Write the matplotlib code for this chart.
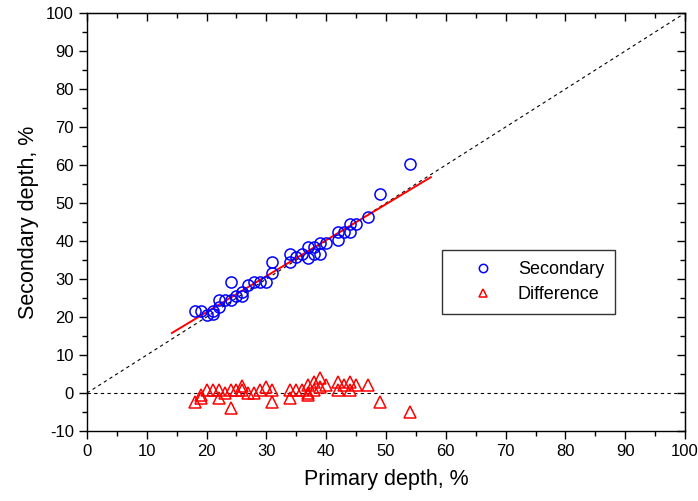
import numpy as np
import matplotlib
matplotlib.use("Agg")
import matplotlib.pyplot as plt
from matplotlib.ticker import MultipleLocator

plt.rcParams['font.family'] = ['Liberation Sans', 'DejaVu Sans']
plt.rcParams['axes.unicode_minus'] = False

# secondary depth vs primary depth
prim = [18, 19, 20, 21, 21, 22, 22, 23, 24, 24, 25, 26, 26, 27, 28, 29, 30, 31, 31,
        34, 34, 35, 36, 37, 37, 38, 38, 39, 39, 40, 42, 42, 43, 44, 44, 45, 47, 49, 54]
sec = [21.6, 21.6, 20.5, 21.6, 20.8, 22.7, 24.5, 24.5, 29.3, 24.5, 25.5, 26.7, 25.5, 28.4,
       29.3, 29.3, 29.3, 31.5, 34.6, 34.6, 36.5, 35.7, 36.5, 38.5, 35.4, 38.5, 36.5, 39.6,
       36.5, 39.6, 42.5, 40.3, 42.5, 44.5, 42.5, 44.5, 46.4, 52.5, 60.4]

# difference points
diff_x = [18, 19, 19, 20, 21, 22, 22, 23, 24, 24, 25, 26, 26, 27, 28, 29, 30, 31, 31,
          34, 34, 35, 36, 37, 37, 37, 38, 38, 39, 39, 40, 42, 42, 43, 44, 44, 45, 47, 49, 54]
diff_y = [-2.3, -1.3, -0.5, 0.8, 0.8, 0.8, -1.4, -0.1, -4.0, 0.8, 0.8, 1.8, 0.8, -0.1,
          -0.1, 0.8, 1.7, 0.8, -2.3, 0.8, -1.4, 0.8, 0.8, 2.1, -0.1, -0.5, 3.0, 0.8, 3.9,
          1.7, 2.1, 3.0, 0.8, 2.1, 3.0, 0.8, 2.1, 2.1, -2.3, -5.0]

# linear fit line end points
fit_x = [14.2, 57.5]
fit_y = [15.8, 56.8]

fig = plt.figure(figsize=(6.98, 5.01), dpi=100)
ax = fig.add_axes([0.1246, 0.1397, 0.8568, 0.8343])

ax.plot([0, 100], [0, 100], ls=(0, (3, 3)), color='black', lw=0.8)
ax.plot([0, 100], [0, 0], ls=(0, (3, 3)), color='black', lw=0.8)
ax.plot(fit_x, fit_y, color='red', lw=1.4)

ax.plot(prim, sec, ls='none', marker='o', ms=8, mfc='none', mec='blue', mew=1.1,
        label='Secondary')
ax.plot(diff_x, diff_y, ls='none', marker='^', ms=8, mfc='none', mec='red', mew=1.1,
        label='Difference')

ax.set_xlim(0, 100)
ax.set_ylim(-10, 100)
ax.xaxis.set_major_locator(MultipleLocator(10))
ax.xaxis.set_minor_locator(MultipleLocator(5))
ax.yaxis.set_major_locator(MultipleLocator(10))
ax.yaxis.set_minor_locator(MultipleLocator(5))

for s in ax.spines.values():
    s.set_linewidth(1.0)
ax.tick_params(which='both', direction='out', top=False, right=False, labelsize=12, width=1.0)
ax.tick_params(which='major', length=6)
ax.tick_params(which='minor', length=3.5)

# inward ticks on the top and right axes
axt = ax.secondary_xaxis('top')
axt.xaxis.set_major_locator(MultipleLocator(10))
axt.xaxis.set_minor_locator(MultipleLocator(5))
axt.tick_params(which='both', direction='in', labeltop=False, width=1.0)
axt.tick_params(which='major', length=6)
axt.tick_params(which='minor', length=3.5)
axr = ax.secondary_yaxis('right')
axr.yaxis.set_major_locator(MultipleLocator(10))
axr.yaxis.set_minor_locator(MultipleLocator(5))
axr.tick_params(which='both', direction='in', labelright=False, width=1.0)
axr.tick_params(which='major', length=6)
axr.tick_params(which='minor', length=3.5)

ax.set_xlabel('Primary depth, %', fontsize=15.5, labelpad=7)
ax.set_ylabel('Secondary depth, %', fontsize=15.5, labelpad=5)

leg = ax.legend(loc='upper left', bbox_to_anchor=(0.5936, 0.433), borderaxespad=0,
                fontsize=13, frameon=True, fancybox=False, edgecolor='black',
                borderpad=0.6, handlelength=3.4, handletextpad=0.2, labelspacing=0.45,
                markerscale=0.75)
leg.get_frame().set_linewidth(1.0)

fig.savefig('out.png', dpi=100)
